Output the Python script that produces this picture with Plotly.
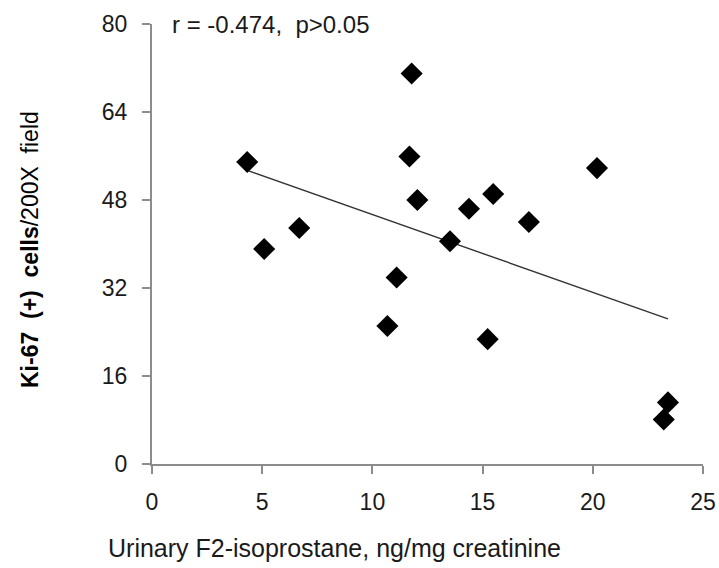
import numpy as np
import plotly.graph_objects as go

# Data
isoprostane = [4.32, 5.09, 6.68, 10.68, 11.10, 11.68, 11.78, 12.04, 13.52, 14.38, 15.23, 15.48, 17.10, 20.19, 23.22, 23.41]
ki67 = [54.9, 39.1, 42.9, 25.1, 33.9, 55.9, 71.0, 48.0, 40.5, 46.4, 22.7, 49.1, 44.0, 53.8, 8.1, 11.2]
x_ticks = [0, 5, 10, 15, 20, 25]
y_ticks = [0, 16, 32, 48, 64, 80]
stat_text = "r = -0.474,  p>0.05"
x_title = "Urinary F2-isoprostane, ng/mg creatinine"
y_title = "<b>Ki-67  (+)  cells</b>/200X  field"

slope, intercept = np.polyfit(isoprostane, ki67, 1)
fit_x = [min(isoprostane), max(isoprostane)]
fit_y = [slope * v + intercept for v in fit_x]

FONT = "Liberation Sans, Arial, sans-serif"
W, H = 719, 568
L, R, T, B = 152, 16, 24, 104

fig = go.Figure()
fig.add_trace(go.Scatter(x=fit_x, y=fit_y, mode="lines",
                         line=dict(color="#333333", width=1.4), showlegend=False))
fig.add_trace(go.Scatter(x=isoprostane, y=ki67, mode="markers",
                         marker=dict(symbol="diamond", size=17, color="black"),
                         showlegend=False, cliponaxis=False))

axis_common = dict(showgrid=False, zeroline=False, showline=True, linecolor="#8c8c8c",
                   linewidth=2, ticks="outside", tickcolor="#8c8c8c", ticklen=8, tickwidth=1.5,
                   automargin=False,
                   tickfont=dict(family=FONT, size=23, color="#1a1a1a"))

fig.update_layout(
    width=W, height=H,
    margin=dict(l=L, r=R, t=T, b=B),
    plot_bgcolor="white", paper_bgcolor="white",
    xaxis=dict(range=[0, 25], tickvals=x_ticks, ticklabelstandoff=8, **axis_common),
    yaxis=dict(range=[0, 80], tickvals=y_ticks, ticklabelstandoff=10, **axis_common),
    annotations=[
        dict(text=stat_text, xref="paper", yref="paper", x=0.033, y=1.0,
             xanchor="left", yanchor="middle", showarrow=False,
             font=dict(family=FONT, size=24, color="#1a1a1a")),
        dict(text=x_title, xref="paper", yref="paper", x=(334 - L) / (W - L - R),
             y=-(548 - (H - B)) / (H - T - B), xanchor="center", yanchor="middle",
             showarrow=False, font=dict(family=FONT, size=25, color="#1a1a1a")),
        dict(text=y_title, xref="paper", yref="paper", x=-(L - 30) / (W - L - R),
             y=(H - B - 250) / (H - T - B), xanchor="center", yanchor="middle",
             textangle=-90, showarrow=False, font=dict(family=FONT, size=23, color="black")),
    ],
)

fig.write_html("out.html", config={"displayModeBar": False},
               post_script="document.body.style.margin='0';document.body.style.overflow='hidden';")
